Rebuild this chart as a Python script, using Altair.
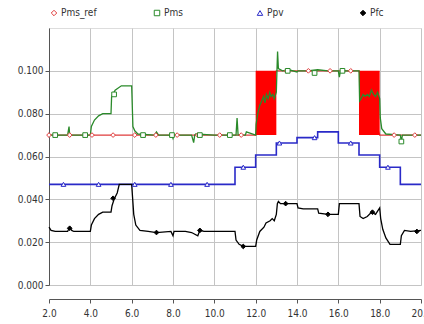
import altair as alt
import pandas as pd

# ---- data ----
ref_x = [2.0, 12.0, 13.0, 17.0, 18.0, 20.0]
ref_y = [0.070, 0.070, 0.100, 0.100, 0.070, 0.070]

pms_x = [2.0, 2.9, 2.97, 3.0, 3.05, 3.3, 4.0, 4.05, 4.2, 4.4, 4.6, 5.0, 5.03, 5.2, 5.5, 6.0, 6.06, 6.15, 6.3,
         7.1, 7.2, 7.3, 7.95, 8.0, 8.05, 8.9, 9.0, 9.05, 9.1, 10.0, 11.05, 11.1, 11.15, 11.5, 11.55, 12.0,
         12.02, 12.1, 12.2, 12.3, 12.38, 12.45, 12.52, 12.6, 12.68, 12.75, 12.83, 12.9, 13.0,
         13.03, 13.06, 13.1, 13.3, 13.6, 14.0, 14.05, 14.5, 15.0, 15.5, 16.0, 16.05, 16.1, 16.5, 17.0,
         17.03, 17.1, 17.2, 17.3, 17.4, 17.5, 17.6, 17.7, 17.8, 17.9, 18.0,
         18.03, 18.1, 18.3, 19.0, 19.05, 19.1, 20.0]
pms_y = [0.070, 0.070, 0.074, 0.070, 0.070, 0.070, 0.070, 0.074, 0.077, 0.079, 0.080, 0.080, 0.088, 0.091, 0.093, 0.093, 0.074, 0.072, 0.0705,
         0.070, 0.0715, 0.070, 0.070, 0.0685, 0.070, 0.070, 0.0665, 0.070, 0.0705, 0.070, 0.070, 0.078, 0.070, 0.070, 0.0715, 0.070,
         0.075, 0.080, 0.084, 0.086, 0.088, 0.085, 0.089, 0.087, 0.090, 0.088, 0.089, 0.087, 0.090,
         0.100, 0.109, 0.101, 0.100, 0.1005, 0.0995, 0.100, 0.100, 0.1005, 0.100, 0.100, 0.097, 0.100, 0.100, 0.100,
         0.086, 0.087, 0.089, 0.088, 0.089, 0.088, 0.091, 0.089, 0.088, 0.090, 0.087,
         0.078, 0.073, 0.0705, 0.070, 0.067, 0.070, 0.070]

ppv_x = [2.0, 11.0, 11.0, 12.0, 12.0, 13.0, 13.0, 14.0, 14.0, 15.0, 15.0, 16.0, 16.0, 17.0, 17.0, 18.0, 18.0, 19.0, 19.0, 20.0]
ppv_y = [0.047, 0.047, 0.055, 0.055, 0.0607, 0.0607, 0.0663, 0.0663, 0.0688, 0.0688, 0.0715, 0.0715,
         0.0663, 0.0663, 0.0607, 0.0607, 0.055, 0.055, 0.047, 0.047]

pfc_x = [2.0, 2.1, 2.3, 2.9, 3.0, 3.1, 3.2, 4.0, 4.05, 4.2, 4.4, 4.6, 5.0, 5.05, 5.15, 5.3, 5.4, 6.0, 6.05, 6.1, 6.2, 6.4,
         6.8, 7.2, 7.9, 8.0, 8.05, 8.6, 8.9, 9.2, 9.3, 9.5, 11.0, 11.05, 11.2, 11.4, 12.0, 12.05, 12.2, 12.4, 12.5,
         12.7, 12.8, 12.9, 13.0, 13.05, 13.1, 13.2, 14.0, 14.05, 14.3, 15.0, 15.05, 15.5, 16.0, 16.05, 17.0, 17.05,
         17.2, 17.4, 17.6, 17.8, 18.0, 18.05, 18.15, 18.3, 18.5, 19.0, 19.05, 19.2, 19.5, 20.0]
pfc_y = [0.027, 0.0255, 0.025, 0.025, 0.027, 0.0255, 0.025, 0.025, 0.028, 0.031, 0.033, 0.034, 0.034, 0.037, 0.040, 0.043, 0.047, 0.047, 0.040, 0.033, 0.028, 0.0255,
         0.025, 0.0245, 0.025, 0.023, 0.025, 0.025, 0.0245, 0.023, 0.0255, 0.025, 0.025, 0.021, 0.019, 0.018, 0.018, 0.021, 0.025, 0.027, 0.029,
         0.030, 0.031, 0.030, 0.033, 0.038, 0.039, 0.038, 0.038, 0.036, 0.0355, 0.0355, 0.0335, 0.033, 0.033, 0.038, 0.038, 0.032,
         0.031, 0.032, 0.034, 0.033, 0.036, 0.031, 0.026, 0.022, 0.019, 0.019, 0.023, 0.0255, 0.025, 0.0255]

# marker positions
ref_mx = [2.0, 3.0, 4.08, 5.1, 6.15, 7.17, 8.2, 9.2, 10.26, 11.3, 13.5, 14.55, 15.6, 16.6, 18.7, 19.7]
ref_my = [0.070] * 10 + [0.100] * 4 + [0.070] * 2
pms_mx = [2.3, 3.75, 5.15, 6.55, 7.95, 9.3, 10.75, 13.55, 14.85, 16.2, 19.05]
pms_my = [0.070, 0.070, 0.089, 0.070, 0.070, 0.070, 0.070, 0.100, 0.099, 0.100, 0.067]
ppv_mx = [2.7, 4.4, 6.15, 7.9, 9.65, 11.4, 13.15, 14.85, 16.6, 18.4]
ppv_my = [0.047, 0.047, 0.047, 0.047, 0.047, 0.055, 0.0663, 0.0688, 0.0663, 0.055]
pfc_mx = [3.0, 5.1, 7.2, 9.3, 11.4, 13.45, 15.5, 17.65, 19.8]
pfc_my = [0.0265, 0.0405, 0.0245, 0.0255, 0.018, 0.038, 0.033, 0.034, 0.025]

box_x0 = [12.0, 17.0]
box_x1 = [13.0, 18.0]
box_y0 = [0.070, 0.070]
box_y1 = [0.100, 0.100]

series = ["Pms_ref", "Pms", "Ppv", "Pfc"]
colors = ["#e03c3c", "#2a8a2a", "#2a2ac8", "#000000"]
shapes = ["diamond", "square", "triangle-up", "diamond"]
fills = ["white", "white", "white", "black"]

FONT = "'Liberation Sans Narrow', 'DejaVu Sans Condensed', 'Roboto Condensed', 'Liberation Sans', sans-serif"

def line_df(xs, ys):
    return pd.DataFrame({"x": xs, "y": ys, "i": range(len(xs))})

xsc = alt.Scale(domain=[2, 20], nice=False, zero=False)
ysc = alt.Scale(domain=[0, 0.12], nice=False)

xax = alt.Axis(values=list(range(2, 21, 2)), format=".1f", title=None, offset=14,
               grid=True, gridColor="#c4c4c4", domainColor="#555", tickColor="#555",
               tickSize=4, labelFontSize=10, labelFont=FONT, labelColor="#333", labelPadding=5,
               labelFlush=False, labelOverlap=False, labelBound=False)
yax = alt.Axis(values=[0, 0.02, 0.04, 0.06, 0.08, 0.10], format=".3f", title=None,
               grid=True, gridColor="#c4c4c4", domainColor="#555", tickColor="#555",
               tickSize=4, labelFontSize=10, labelFont=FONT, labelColor="#333", labelPadding=2)

def line(xs, ys, color, w=1.4):
    return alt.Chart(line_df(xs, ys)).mark_line(color=color, strokeWidth=w).encode(
        x=alt.X("x:Q", scale=xsc, axis=xax),
        y=alt.Y("y:Q", scale=ysc, axis=yax),
        order="i:O",
    )

boxes = alt.Chart(pd.DataFrame({"x0": box_x0, "x1": box_x1, "y0": box_y0, "y1": box_y1})).mark_rect(
    color="#ff0000").encode(
    x=alt.X("x0:Q", scale=xsc, axis=xax), x2="x1:Q",
    y=alt.Y("y0:Q", scale=ysc, axis=yax), y2="y1:Q")

pts = pd.concat([
    pd.DataFrame({"x": ref_mx, "y": ref_my, "s": "Pms_ref"}),
    pd.DataFrame({"x": pms_mx, "y": pms_my, "s": "Pms"}),
    pd.DataFrame({"x": ppv_mx, "y": ppv_my, "s": "Ppv"}),
    pd.DataFrame({"x": pfc_mx, "y": pfc_my, "s": "Pfc"}),
])

leg = alt.Legend(title=None, orient="none", legendX=0, legendY=-20, direction="horizontal",
                 columns=4, gridAlign="all", columnPadding=55, labelFont=FONT, labelFontSize=10,
                 labelColor="#333", symbolSize=30, symbolStrokeWidth=1, labelOffset=2)

points = alt.Chart(pts).mark_point(size=22, strokeWidth=1, opacity=1, filled=False).encode(
    x=alt.X("x:Q", scale=xsc, axis=xax),
    y=alt.Y("y:Q", scale=ysc, axis=yax),
    color=alt.Color("s:N", scale=alt.Scale(domain=series, range=colors), legend=leg),
    shape=alt.Shape("s:N", scale=alt.Scale(domain=series, range=shapes), legend=leg),
    fill=alt.Fill("s:N", scale=alt.Scale(domain=series, range=fills), legend=leg),
)

chart = alt.layer(
    line(ppv_x, ppv_y, "#2a2ac8", 1.6),
    line(pfc_x, pfc_y, "#000000", 1.3),
    line(ref_x, ref_y, "#e03c3c", 1.4),
    boxes,
    line(pms_x, pms_y, "#2a8a2a", 1.3),
    points,
).properties(
    width=372, height=257,
    autosize=alt.AutoSizeParams(type="none"),
    padding={"left": 49, "top": 28, "right": 3, "bottom": 39},
).configure_view(stroke="#b4b4b4").configure(background="white")

chart.save("out.html", embed_options={"renderer": "svg", "actions": False})
